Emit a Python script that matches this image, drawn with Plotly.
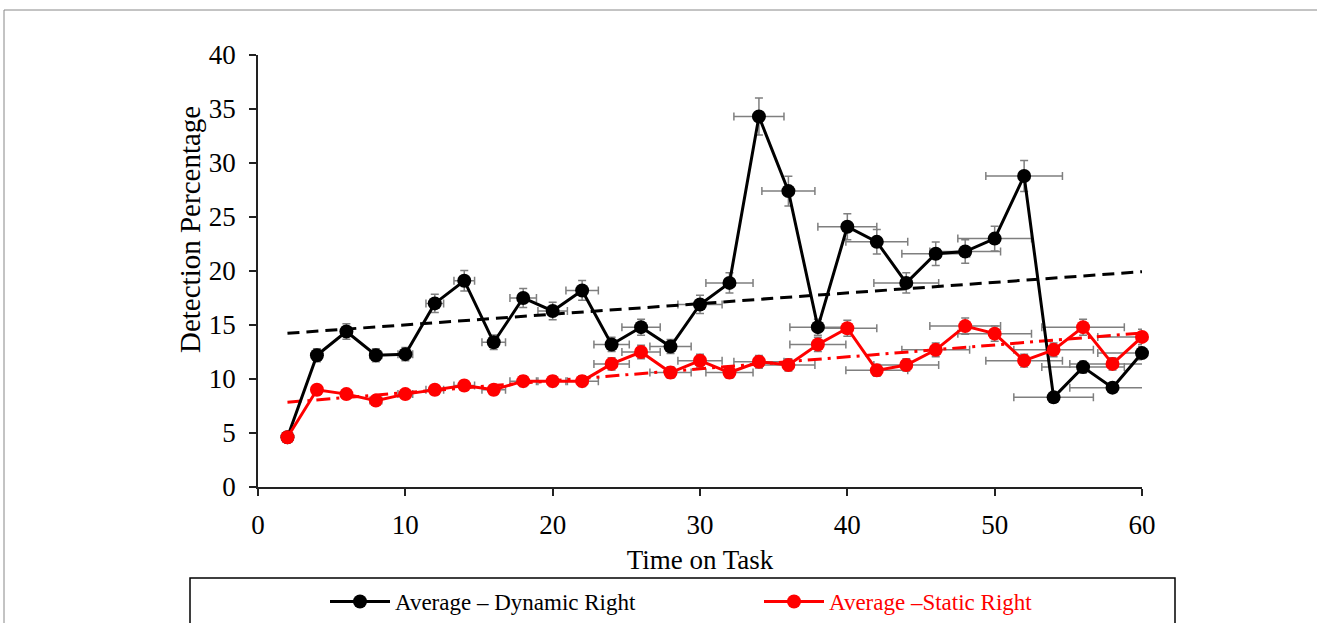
import numpy as np
import plotly.graph_objects as go

time_on_task = [2, 4, 6, 8, 10, 12, 14, 16, 18, 20, 22, 24, 26, 28, 30,
                32, 34, 36, 38, 40, 42, 44, 46, 48, 50, 52, 54, 56, 58, 60]
dynamic_right = [4.6, 12.2, 14.4, 12.2, 12.3, 17.0, 19.1, 13.4, 17.5, 16.3,
                 18.2, 13.2, 14.8, 13.0, 16.9, 18.9, 34.3, 27.4, 14.8, 24.1,
                 22.7, 18.9, 21.6, 21.8, 23.0, 28.8, 8.3, 11.1, 9.2, 12.4]
static_right = [4.6, 9.0, 8.6, 8.0, 8.6, 9.0, 9.4, 9.0, 9.8, 9.8,
                9.8, 11.4, 12.5, 10.6, 11.7, 10.6, 11.6, 11.3, 13.2, 14.7,
                10.8, 11.3, 12.7, 14.9, 14.2, 11.7, 12.7, 14.8, 11.4, 13.9]
error_percent = 5
x_ticks = [0, 10, 20, 30, 40, 50, 60]
y_ticks = [0, 5, 10, 15, 20, 25, 30, 35, 40]
x_title = "Time on Task"
y_title = "Detection Percentage"

FONT = "Liberation Serif"
x = np.array(time_on_task, dtype=float)

def trend(y):
    m, b = np.polyfit(x, np.array(y, dtype=float), 1)
    xs = np.array([x.min(), x.max()])
    return xs, m * xs + b

fig = go.Figure()

# error bars (clipped to the plot area, drawn beneath the markers)
for series in (dynamic_right, static_right):
    fig.add_trace(go.Scatter(
        x=time_on_task, y=series, mode="markers", showlegend=False,
        cliponaxis=True, hoverinfo="skip",
        marker=dict(color="rgba(0,0,0,0)", size=2),
        error_x=dict(type="percent", value=error_percent, color="#7f7f7f",
                     thickness=1.5, width=4),
        error_y=dict(type="percent", value=error_percent, color="#7f7f7f",
                     thickness=1.5, width=4)))

tx, ty = trend(dynamic_right)
fig.add_trace(go.Scatter(x=tx, y=ty, mode="lines", showlegend=False,
                         line=dict(color="black", width=3, dash="12px,7px"),
                         hoverinfo="skip"))
tx, ty = trend(static_right)
fig.add_trace(go.Scatter(x=tx, y=ty, mode="lines", showlegend=False,
                         line=dict(color="#ff0000", width=3, dash="14px,6px,3px,6px"),
                         hoverinfo="skip"))

fig.add_trace(go.Scatter(x=time_on_task, y=dynamic_right, mode="lines+markers",
                         name="Average – Dynamic Right", cliponaxis=False,
                         legend="legend",
                         line=dict(color="black", width=3),
                         marker=dict(color="black", size=14)))
fig.add_trace(go.Scatter(x=time_on_task, y=static_right, mode="lines+markers",
                         name="<span style='color:#ff0000'>Average –Static Right</span>",
                         cliponaxis=False, legend="legend2",
                         line=dict(color="#ff0000", width=3),
                         marker=dict(color="#ff0000", size=14)))

W, H = 1317, 623
L, R, T, B = 258, 1317 - 1142, 55, 623 - 487
pw, ph = W - L - R, H - T - B

def px_x(p):
    return (p - L) / pw

def px_y(p):
    return (H - B - p) / ph

legend_common = dict(orientation="h", xanchor="left", yanchor="top",
                     y=px_y(580), font=dict(size=23, family=FONT),
                     bgcolor="rgba(0,0,0,0)", borderwidth=0, itemwidth=60)

fig.update_layout(
    width=W, height=H,
    margin=dict(l=L, r=R, t=T, b=B, autoexpand=False),
    paper_bgcolor="white", plot_bgcolor="white",
    font=dict(family=FONT, color="black", size=22),
    xaxis=dict(range=[0, 60], tickvals=x_ticks, showgrid=False, zeroline=False,
               showline=True, linecolor="#222", linewidth=1.5,
               ticks="outside", ticklen=7, tickwidth=1.5, tickcolor="#222",
               ticklabelstandoff=6,
               tickfont=dict(size=27, family=FONT),
               title=dict(text=x_title, font=dict(size=27, family=FONT),
                          standoff=11)),
    yaxis=dict(range=[0, 40], tickvals=y_ticks, showgrid=False, zeroline=False,
               showline=True, linecolor="#222", linewidth=1.5,
               ticks="outside", ticklen=7, tickwidth=1.5, tickcolor="#222",
               ticklabelstandoff=8,
               tickfont=dict(size=27, family=FONT)),
    annotations=[
        dict(text=y_title, textangle=-90, xref="paper", yref="paper",
             x=px_x(190), y=px_y(230), xanchor="center", yanchor="middle",
             showarrow=False, font=dict(size=29, family=FONT, color="black")),
    ],
    showlegend=True,
    legend=dict(x=px_x(325), **legend_common),
    legend2=dict(x=px_x(759), **legend_common),
    shapes=[
        dict(type="rect", xref="paper", yref="paper",
             x0=px_x(190), x1=px_x(1175), y0=px_y(660), y1=px_y(578),
             line=dict(color="black", width=1.5), fillcolor="rgba(0,0,0,0)"),
        dict(type="rect", xref="paper", yref="paper",
             x0=px_x(4), x1=px_x(1340), y0=px_y(700), y1=px_y(10),
             line=dict(color="#888888", width=1), fillcolor="rgba(0,0,0,0)"),
    ],
)

fig.write_html("out.html",
               config={"displayModeBar": False},
               post_script="document.body.style.margin='0px';"
                           "document.body.style.overflow='hidden';")
